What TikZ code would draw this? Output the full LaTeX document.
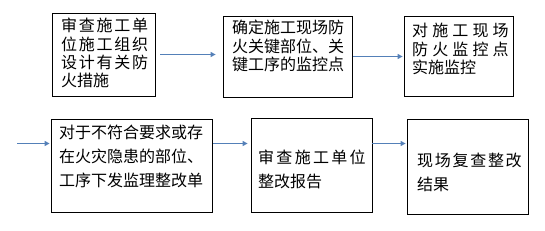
\documentclass[tikz,border=0pt]{standalone}
\usepackage{fontspec}
\newfontfamily\cjk{Noto Sans CJK SC}
\usetikzlibrary{arrows.meta}
\definecolor{flowblue}{RGB}{84,128,184}
\newcommand{\spreadto}[2]{\hbox to #1{#2}}

\begin{document}
\begin{tikzpicture}[x=1pt, y=-1pt,
  box/.style={draw, line width=0.8pt, inner sep=0pt},
  txt/.style={anchor=north west, inner sep=0pt, align=left,
    font=\cjk\fontsize{16}{18.4}\selectfont},
  txtwide/.style={txt, font=\cjk\fontsize{16}{24}\selectfont},
  flow/.style={flowblue, line width=1.3pt, -{Triangle[length=5pt, width=5pt]}}]
  \useasboundingbox (0,0) rectangle (545,230);

  % 第一行
  \node[box, minimum width=103pt, minimum height=83pt] (P1) at (103.5,54.5) {};
  \node[box, minimum width=129pt, minimum height=81pt] (P2) at (287.5,56.5) {};
  \node[box, minimum width=109pt, minimum height=80pt] (P3) at (458.5,56) {};
  \node[txt] (T1) at (61,18) {\spreadto{87pt}{审\hfil 查\hfil 施\hfil 工\hfil 单}\\
    \spreadto{87pt}{位\hfil 施\hfil 工\hfil 组\hfil 织}\\
    \spreadto{87pt}{设\hfil 计\hfil 有\hfil 关\hfil 防}\\
    火措施};
  \node[txt] (T2) at (232,20) {确定施工现场防\\火关键部位、关\\键工序的监控点};
  \node[txt] (T3) at (412,23) {\spreadto{96.5pt}{对\hfil 施\hfil 工\hfil 现\hfil 场}\\
    \spreadto{96.5pt}{防\hfil 火\hfil 监\hfil 控\hfil 点}\\
    实施监控};

  % 第二行
  \node[box, minimum width=161pt, minimum height=93pt] (P4) at (131.5,165.5) {};
  \node[box, minimum width=121pt, minimum height=94pt] (P5) at (311.5,165) {};
  \node[box, minimum width=121pt, minimum height=95pt] (P6) at (467.5,166.5) {};
  \node[txtwide] (T4) at (59,125) {对于不符合要求或存\\在火灾隐患的部位、\\工序下发监理整改单};
  \node[txtwide] (T5) at (258,150) {\spreadto{107.5pt}{审\hfil 查\hfil 施\hfil 工\hfil 单\hfil 位}\\
    整改报告};
  \node[txtwide] (T6) at (417,153) {\spreadto{104.5pt}{现\hfil 场\hfil 复\hfil 查\hfil 整\hfil 改}\\
    结果};

  % 箭头
  \draw[flow, shorten <=5pt, shorten >=7pt] (P1.east) -- (P1.east -| P2.west);
  \draw[flow, shorten <=1pt, shorten >=1pt] (P2.east) -- (P2.east -| P3.west);
  \coordinate (in) at (17,143.5);
  \coordinate (R4) at ([yshift=22pt]P4.east);
  \coordinate (R5) at ([yshift=21.5pt]P5.east);
  \draw[flow, shorten >=1pt] (in) -- (in -| P4.west);
  \draw[flow, shorten <=1pt, shorten >=3pt] (R4) -- (R4 -| P5.west);
  \draw[flow, shorten >=1pt] (R5) -- (R5 -| P6.west);
\end{tikzpicture}
\end{document}
